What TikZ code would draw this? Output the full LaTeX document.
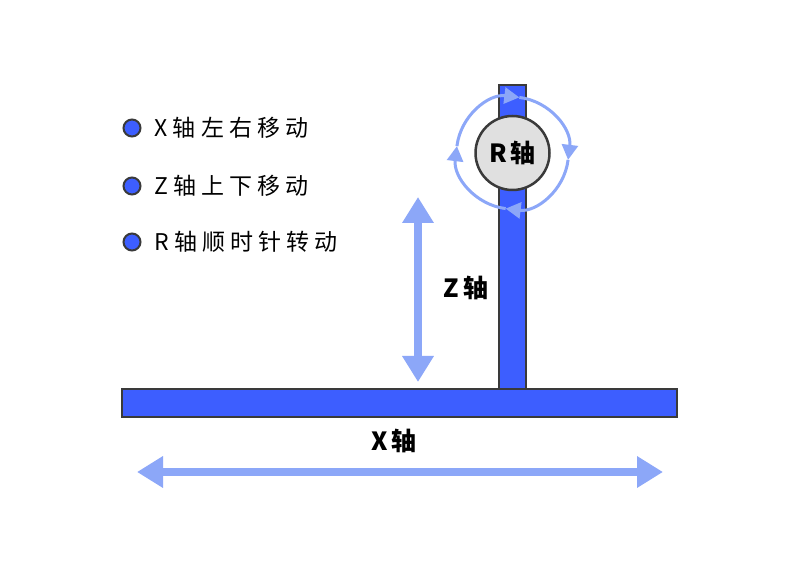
\documentclass[tikz,border=0pt]{standalone}
\usepackage{fontspec}
\setmainfont{Noto Sans CJK SC}
\usetikzlibrary{arrows.meta,positioning}
\definecolor{barblue}{HTML}{3D5EFF}
\definecolor{lightblue}{HTML}{8CA7F8}
\definecolor{edgegray}{HTML}{3A3A3A}
\definecolor{knobgray}{HTML}{E0E0E0}

\begin{document}
\begin{tikzpicture}
  [x=1pt,y=1pt,
   bar/.style={draw=edgegray,line width=2.2pt,fill=barblue,inner sep=0pt},
   move/.style={draw=lightblue,line width=8pt,{Triangle[width=30pt,length=26pt]}-{Triangle[width=30pt,length=26pt]}},
   turn/.style={draw=lightblue,line width=3pt,-{Triangle[width=16pt,length=15pt]}},
   dot/.style={circle,draw=edgegray,line width=2pt,fill=barblue,minimum size=17pt,inner sep=0pt},
   item/.style={font=\fontsize{23}{23}\selectfont\addfontfeatures{LetterSpace=22},anchor=west,inner sep=0pt},
   axis/.style={font=\fontsize{25}{25}\selectfont\bfseries\addfontfeatures{LetterSpace=15},inner sep=0pt}]
  \useasboundingbox (0,0) rectangle (800,573);
  \fill[white] (0,0) rectangle (800,573);

  % bars
  \node[bar,minimum width=27pt,minimum height=304pt] (zbar) at (512.5,336) {};
  \node[bar,minimum width=555pt,minimum height=28pt] (xbar) at (399.5,170) {};

  % R joint
  \node[circle,draw=edgegray,line width=2.5pt,fill=knobgray,minimum size=74pt,inner sep=0pt,
        font=\fontsize{25}{25}\selectfont\bfseries\addfontfeatures{LetterSpace=15}] (rjoint) at (512.5,420) {R轴};
  \foreach \a in {173,83,-7,-97}
    \draw[turn] ([shift={(\a:56)}]rjoint.center) arc[start angle=\a,end angle=\a-90,radius=56];

  % moves
  \coordinate (zbot) at (418,191);
  \coordinate (ztop) at (418,376);
  \draw[move] (zbot) -- (ztop);
  \node[axis] (zlabel) at (466,285) {Z轴};

  \coordinate (xleft) at (137,101);
  \coordinate (xright) at (663,101);
  \draw[move] (xleft) -- (xright);
  \node[axis] (xlabel) at (394,132) {X轴};

  % legend
  \foreach \y/\txt [count=\i] in {445/X轴左右移动,387/Z轴上下移动,331/R轴顺时针转动} {
    \node[dot] (dot\i) at (132,\y) {};
    \node[item,right=13pt of dot\i] (item\i) {\txt};
  }
\end{tikzpicture}
\end{document}
